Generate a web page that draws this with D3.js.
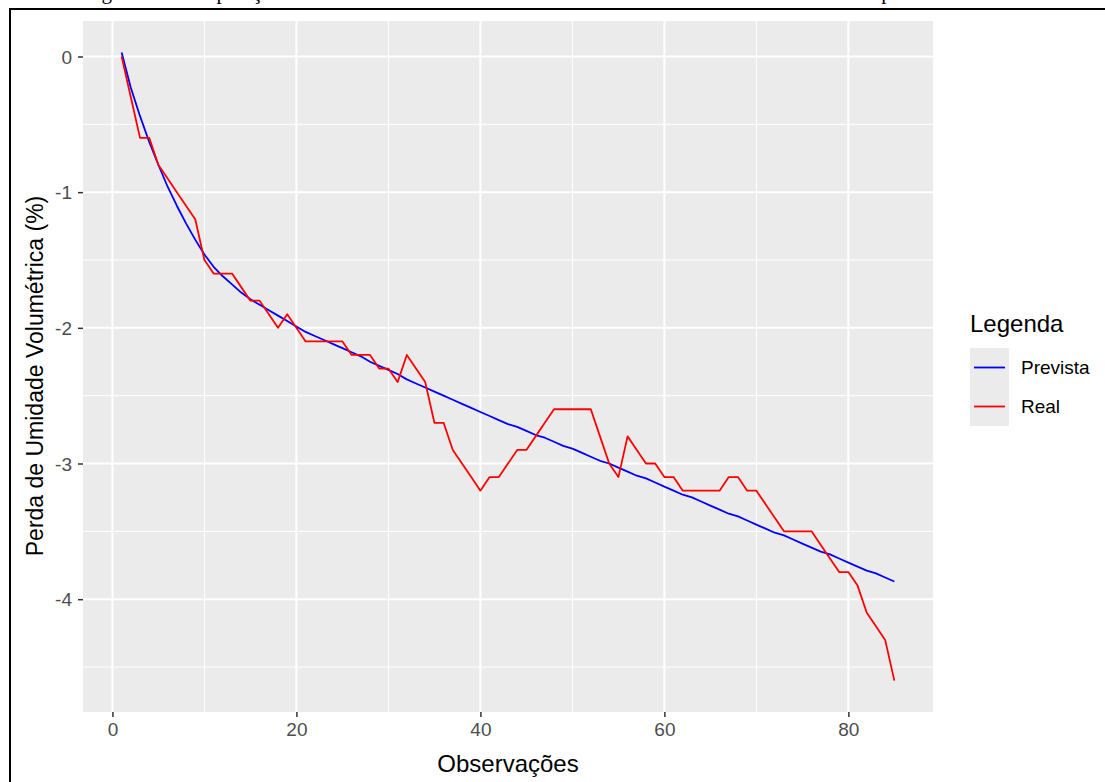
<!DOCTYPE html>
<html>
<head>
<meta charset="utf-8">
<script src="https://cdn.jsdelivr.net/npm/d3@7"></script>
<style>
  body { margin: 0; background: #fff; }
  svg { display: block; }
</style>
</head>
<body>
<div id="chart"></div>
<script>
// observations 1..85
var observacoes = d3.range(1, 86);

var real = [0, -0.3, -0.6, -0.6, -0.8, -0.9, -1.0, -1.1, -1.2, -1.5,
    -1.6, -1.6, -1.6, -1.7, -1.8, -1.8, -1.9, -2.0, -1.9, -2.0,
    -2.1, -2.1, -2.1, -2.1, -2.1, -2.2, -2.2, -2.2, -2.3, -2.3,
    -2.4, -2.2, -2.3, -2.4, -2.7, -2.7, -2.9, -3.0, -3.1, -3.2,
    -3.1, -3.1, -3.0, -2.9, -2.9, -2.8, -2.7, -2.6, -2.6, -2.6,
    -2.6, -2.6, -2.8, -3.0, -3.1, -2.8, -2.9, -3.0, -3.0, -3.1,
    -3.1, -3.2, -3.2, -3.2, -3.2, -3.2, -3.1, -3.1, -3.2, -3.2,
    -3.3, -3.4, -3.5, -3.5, -3.5, -3.5, -3.6, -3.7, -3.8, -3.8,
    -3.9, -4.1, -4.2, -4.3, -4.6];

// model prediction (%)
var prevista = [0.03, -0.23, -0.44, -0.63, -0.80, -0.96, -1.10, -1.23, -1.35, -1.46,
    -1.55, -1.62, -1.68, -1.74, -1.79, -1.83, -1.87, -1.91, -1.95, -1.99,
    -2.03, -2.06, -2.09, -2.12, -2.15, -2.18, -2.21, -2.25, -2.28, -2.31,
    -2.34, -2.38, -2.41, -2.44, -2.47, -2.50, -2.53, -2.56, -2.59, -2.62,
    -2.65, -2.68, -2.71, -2.73, -2.76, -2.79, -2.81, -2.84, -2.87, -2.89,
    -2.92, -2.95, -2.98, -3.00, -3.03, -3.06, -3.09, -3.11, -3.14, -3.17,
    -3.20, -3.23, -3.25, -3.28, -3.31, -3.34, -3.37, -3.39, -3.42, -3.45,
    -3.48, -3.51, -3.53, -3.56, -3.59, -3.62, -3.65, -3.67, -3.70, -3.73,
    -3.76, -3.79, -3.81, -3.84, -3.87];

var xTicks = [0, 20, 40, 60, 80];
var xMinor = [10, 30, 50, 70];
var yTicks = [0, -1, -2, -3, -4];
var yMinor = [0.5, -0.5, -1.5, -2.5, -3.5, -4.5];

var series = [
    { nome: 'Prevista', cor: '#0000FF', valores: prevista },
    { nome: 'Real', cor: '#FF0000', valores: real }
];

var W = 1105, H = 782;
var panel = { left: 83, right: 933, top: 21, bottom: 712 };

var svg = d3.select('#chart').append('svg')
    .attr('width', W)
    .attr('height', H)
    .style('font-family', 'Liberation Sans, Arial, sans-serif');

// caption of the page, cut at the top edge as in the scan
svg.append('text')
    .attr('x', 84)
    .attr('y', -1)
    .style('font-family', 'Liberation Serif, Times New Roman, serif')
    .style('font-size', '21px')
    .text('Figura 9 – Comparação entre os valores reais observados de umidade volumétrica e os valores previstos');

// frame of the document figure
svg.append('path')
    .attr('d', 'M10,' + (H + 5) + 'V9H' + (W + 5))
    .attr('fill', 'none')
    .attr('stroke', '#000')
    .attr('stroke-width', 2);

// ggplot-like expansion of 5% on each side
var xExt = d3.extent(observacoes);
var xPad = (xExt[1] - xExt[0]) * 0.05;
var yExt = d3.extent(real.concat(prevista));
var yPad = (yExt[1] - yExt[0]) * 0.05;

var x = d3.scaleLinear()
    .domain([xExt[0] - xPad, xExt[1] + xPad])
    .range([panel.left, panel.right]);
var y = d3.scaleLinear()
    .domain([yExt[0] - yPad, yExt[1] + yPad])
    .range([panel.bottom, panel.top]);

svg.append('rect')
    .attr('x', panel.left)
    .attr('y', panel.top)
    .attr('width', panel.right - panel.left)
    .attr('height', panel.bottom - panel.top)
    .attr('fill', '#EBEBEB');

var grid = svg.append('g');
grid.selectAll('.minor-x').data(xMinor).enter().append('line')
    .attr('x1', d => x(d)).attr('x2', d => x(d))
    .attr('y1', panel.top).attr('y2', panel.bottom)
    .attr('stroke', '#fff').attr('stroke-width', 1);
grid.selectAll('.minor-y').data(yMinor).enter().append('line')
    .attr('y1', d => y(d)).attr('y2', d => y(d))
    .attr('x1', panel.left).attr('x2', panel.right)
    .attr('stroke', '#fff').attr('stroke-width', 1);
grid.selectAll('.major-x').data(xTicks).enter().append('line')
    .attr('x1', d => x(d)).attr('x2', d => x(d))
    .attr('y1', panel.top).attr('y2', panel.bottom)
    .attr('stroke', '#fff').attr('stroke-width', 2);
grid.selectAll('.major-y').data(yTicks).enter().append('line')
    .attr('y1', d => y(d)).attr('y2', d => y(d))
    .attr('x1', panel.left).attr('x2', panel.right)
    .attr('stroke', '#fff').attr('stroke-width', 2);

var line = d3.line()
    .x((d, i) => x(observacoes[i]))
    .y(d => y(d));

series.forEach(function(s) {
    svg.append('path')
        .attr('d', line(s.valores))
        .attr('fill', 'none')
        .attr('stroke', s.cor)
        .attr('stroke-width', 1.8)
        .attr('stroke-linejoin', 'round');
});

// axes
var xAxis = svg.append('g')
    .attr('transform', 'translate(0,' + panel.bottom + ')')
    .call(d3.axisBottom(x).tickValues(xTicks).tickSize(5).tickPadding(6));
var yAxis = svg.append('g')
    .attr('transform', 'translate(' + panel.left + ',0)')
    .call(d3.axisLeft(y).tickValues(yTicks).tickSize(5).tickPadding(6)
        .tickFormat(d3.format('d')));

[xAxis, yAxis].forEach(function(a) {
    a.select('.domain').remove();
    a.selectAll('line').attr('stroke', '#333').attr('stroke-width', 1.5);
    a.selectAll('text')
        .attr('fill', '#4D4D4D')
        .style('font-size', '19px')
        .style('font-family', 'Liberation Sans, Arial, sans-serif');
});
yAxis.selectAll('text').text(d => d === 0 ? '0' : '-' + Math.abs(d)).attr('dy', '0.35em');

svg.append('text')
    .attr('x', (panel.left + panel.right) / 2)
    .attr('y', 772)
    .attr('text-anchor', 'middle')
    .style('font-size', '24px')
    .text('Observações');

svg.append('text')
    .attr('transform', 'translate(43,376) rotate(-90)')
    .attr('text-anchor', 'middle')
    .style('font-size', '23px')
    .text('Perda de Umidade Volumétrica (%)');

// legend
var legend = svg.append('g').attr('transform', 'translate(970,0)');
legend.append('text')
    .attr('x', 0)
    .attr('y', 332)
    .style('font-size', '24px')
    .text('Legenda');

var key = legend.selectAll('.key').data(series).enter().append('g')
    .attr('transform', (d, i) => 'translate(0,' + (348 + i * 39) + ')');
key.append('rect')
    .attr('width', 39).attr('height', 39)
    .attr('fill', '#EBEBEB');
key.append('line')
    .attr('x1', 4).attr('x2', 35)
    .attr('y1', 19.5).attr('y2', 19.5)
    .attr('stroke', d => d.cor)
    .attr('stroke-width', 1.8);
key.append('text')
    .attr('x', 51)
    .attr('y', 19.5)
    .attr('dy', '0.35em')
    .style('font-size', '19px')
    .text(d => d.nome);
</script>
</body>
</html>
